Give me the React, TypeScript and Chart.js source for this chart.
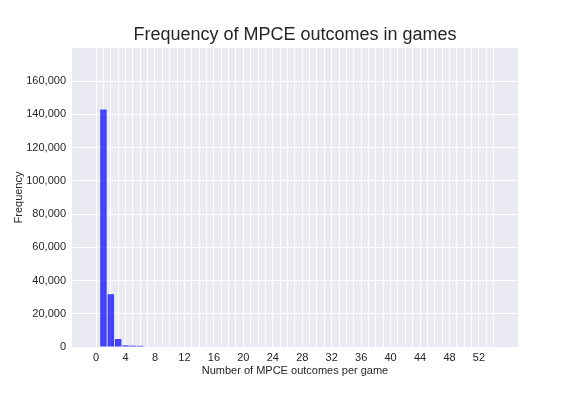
import React, { useEffect, useRef } from "react";
import { Chart, registerables } from "chart.js";

Chart.register(...registerables);

const outcomes = [1, 2, 3, 4, 5, 6];
const frequencies = [143000, 31800, 4800, 1000, 800, 700];
const xTickValues = Array.from({ length: 55 }, (_, i) => i);
const yTickValues = [0, 20000, 40000, 60000, 80000, 100000, 120000, 140000, 160000];

const FONT = "'Liberation Sans', Arial, sans-serif";
const TEXT = "#262626";

const bgPlugin = {
  id: "bg",
  beforeDraw(chart: any) {
    const { ctx, chartArea } = chart;
    ctx.save();
    ctx.fillStyle = "#ffffff";
    ctx.fillRect(0, 0, chart.width, chart.height);
    ctx.fillStyle = "#EAEAF2";
    ctx.fillRect(chartArea.left, chartArea.top, chartArea.right - chartArea.left, chartArea.bottom - chartArea.top);
    ctx.restore();
  },
  afterDraw(chart: any) {
    const { ctx, chartArea } = chart;
    ctx.save();
    ctx.fillStyle = TEXT;
    ctx.font = `18px ${FONT}`;
    ctx.textAlign = "center";
    ctx.textBaseline = "middle";
    ctx.fillText("Frequency of MPCE outcomes in games", (chartArea.left + chartArea.right) / 2, 35);
    ctx.restore();
  },
};

export default function App() {
  const ref = useRef<HTMLCanvasElement>(null);
  useEffect(() => {
    document.body.style.margin = "0";
    const chart = new Chart(ref.current!, {
      type: "bar",
      data: {
        datasets: [
          {
            data: outcomes.map((x, i) => ({ x, y: frequencies[i] })),
            backgroundColor: "rgba(0,0,255,0.72)",
            borderWidth: 0,
            barPercentage: 0.88,
            categoryPercentage: 1,
          },
        ],
      },
      options: {
        animation: false,
        responsive: false,
        layout: { padding: { top: 48, right: 58, left: 12, bottom: 18 } },
        plugins: { legend: { display: false }, tooltip: { enabled: false }, title: { display: false } },
        scales: {
          x: {
            type: "linear",
            offset: false,
            min: -3.27,
            max: 57.3,
            afterBuildTicks(scale: any) {
              scale.ticks = xTickValues.map((v) => ({ value: v }));
            },
            afterFit(scale: any) {
              scale.height = 31;
            },
            grid: { color: "#ffffff", lineWidth: 1, drawTicks: false, offset: false },
            border: { display: false },
            ticks: {
              autoSkip: false,
              maxRotation: 0,
              padding: 4,
              color: TEXT,
              font: { family: FONT, size: 11 },
              callback: (v: any) => (Number(v) % 4 === 0 ? String(v) : ""),
            },
            title: {
              display: true,
              text: "Number of MPCE outcomes per game",
              color: TEXT,
              font: { family: FONT, size: 11 },
              padding: { top: 2, bottom: 0 },
            },
          },
          y: {
            min: 0,
            max: 180000,
            afterBuildTicks(scale: any) {
              scale.ticks = yTickValues.map((v) => ({ value: v }));
            },
            afterFit(scale: any) {
              scale.width = 60;
            },
            grid: { color: "#ffffff", lineWidth: 1, drawTicks: false },
            border: { display: false },
            ticks: {
              padding: 6,
              color: TEXT,
              font: { family: FONT, size: 11 },
              callback: (v: any) => Number(v).toLocaleString("en-US"),
            },
            title: {
              display: true,
              text: "Frequency",
              color: TEXT,
              font: { family: FONT, size: 11 },
              padding: { top: 0, bottom: 0 },
            },
          },
        },
      },
      plugins: [bgPlugin],
    } as any);
    return () => chart.destroy();
  }, []);
  return (
    <div style={{ width: 576, height: 396 }}>
      <canvas ref={ref} width={576} height={396} style={{ display: "block" }} />
    </div>
  );
}
